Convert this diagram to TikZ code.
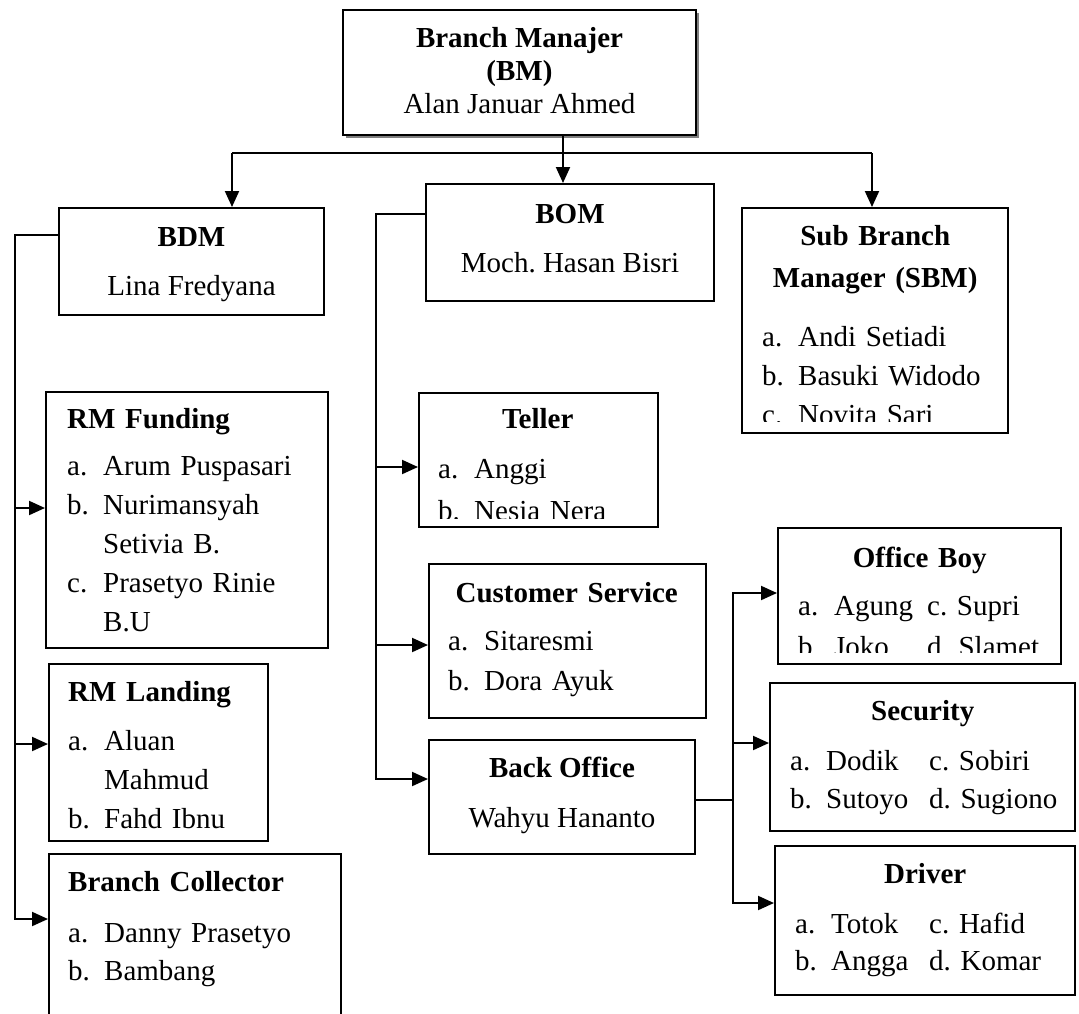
\documentclass[tikz,border=0pt]{standalone}
\usepackage{fontspec}
\setmainfont{Liberation Serif}
\usetikzlibrary{arrows.meta,positioning,shadows}
\frenchspacing

\newcommand{\tp}{\rule{0pt}{20pt}}
\newcommand{\ttl}[1]{\makebox[\linewidth]{\bfseries #1}}
\newcommand{\itm}[2]{\mbox{\makebox[36pt][l]{#1}#2}}
\newcommand{\pcol}[2]{\makebox[#1][l]{#2}}

\tikzset{
  box/.style={draw, line width=2pt, anchor=north west, inner sep=0pt},
  txt/.style={inner sep=0pt, anchor=north west, align=left, font=\fontsize{29}{#1}\selectfont},
  txt/.default=39,
  ctxt/.style={inner sep=0pt, anchor=north, align=center, font=\fontsize{29}{#1}\selectfont},
  ctxt/.default=33,
  link/.style={line width=2pt},
}

\begin{document}
\begin{tikzpicture}[x=1pt, y=-1pt, >={Triangle[length=16pt,width=14pt]}]
  \useasboundingbox (0,0) rectangle (1079,1013);

  % boxes
  \node[box, fill=white, minimum width=353pt, minimum height=125pt,
        drop shadow={shadow xshift=3pt, shadow yshift=-3pt, fill=gray, opacity=1}] (bm) at (342,9) {};
  \node[box, minimum width=265pt, minimum height=107pt] (bdm) at (58,207) {};
  \node[box, minimum width=288pt, minimum height=117pt] (bom) at (425,183) {};
  \node[box, minimum width=266pt, minimum height=225pt] (sbm) at (741,207) {};
  \node[box, minimum width=282pt, minimum height=256pt] (rmf) at (45,391) {};
  \node[box, minimum width=219pt, minimum height=177pt] (rml) at (48,663) {};
  \node[box, minimum width=292pt, minimum height=177pt] (bc)  at (48,853) {};
  \node[box, minimum width=239pt, minimum height=134pt] (tel) at (418,392) {};
  \node[box, minimum width=277pt, minimum height=154pt] (cs)  at (428,563) {};
  \node[box, minimum width=266pt, minimum height=114pt] (bo)  at (428,739) {};
  \node[box, minimum width=283pt, minimum height=136pt] (ob)  at (777,527) {};
  \node[box, minimum width=305pt, minimum height=148pt] (sec) at (769,682) {};
  \node[box, minimum width=300pt, minimum height=149pt] (drv) at (774,845) {};

  % texts
  \node[ctxt] (bmT) at ([shift={(0,18)}]bm.north)
    {\tp\textbf{Branch Manajer}\\ \textbf{(BM)}\\ Alan Januar Ahmed};
  \node[ctxt=49] (bdmT) at ([shift={(0,19)}]bdm.north)
    {\tp\textbf{BDM}\\ Lina Fredyana};
  \node[ctxt=49] (bomT) at ([shift={(0,20)}]bom.north)
    {\tp\textbf{BOM}\\ Moch. Hasan Bisri};
  \begin{scope}
    \clip (sbm.north west) rectangle ([yshift=13pt]sbm.south east);
    \node[txt, text width=226pt] (sbmT) at ([shift={(21,18)}]sbm.north west)
      {\ttl{\tp Sub Branch}\\[3pt] \ttl{Manager (SBM)}\\[20pt]
       \itm{a.}{Andi Setiadi}\\ \itm{b.}{Basuki Widodo}\\ \itm{c.}{Novita Sari}};
  \end{scope}
  \node[txt, text width=242pt] (rmfT) at ([shift={(22,17)}]rmf.north west)
    {\tp\textbf{RM Funding}\\[8pt] \itm{a.}{Arum Puspasari}\\ \itm{b.}{Nurimansyah}\\
     \itm{}{Setivia B.}\\ \itm{c.}{Prasetyo Rinie}\\ \itm{}{B.U}};
  \node[txt, text width=179pt] (rmlT) at ([shift={(20,18)}]rml.north west)
    {\tp\textbf{RM Landing}\\[10pt] \itm{a.}{Aluan}\\ \itm{}{Mahmud}\\ \itm{b.}{Fahd Ibnu}};
  \node[txt=38, text width=252pt] (bcT) at ([shift={(20,18)}]bc.north west)
    {\tp\textbf{Branch Collector}\\[13pt] \itm{a.}{Danny Prasetyo}\\ \itm{b.}{Bambang}};
  \begin{scope}
    \clip (tel.north west) rectangle ([yshift=10pt]tel.south east);
    \node[txt=42, text width=199pt] (telT) at ([shift={(20,16)}]tel.north west)
      {\ttl{\tp Teller}\\[8pt] \itm{a.}{Anggi}\\ \itm{b.}{Nesia Nera}};
  \end{scope}
  \node[txt=40, text width=237pt] (csT) at ([shift={(20,19)}]cs.north west)
    {\ttl{\tp Customer Service}\\[8pt] \itm{a.}{Sitaresmi}\\ \itm{b.}{Dora Ayuk}};
  \node[ctxt=50] (boT) at ([shift={(0,18)}]bo.north)
    {\tp\textbf{Back Office}\\ Wahyu Hananto};
  \begin{scope}
    \clip (ob.north west) rectangle ([yshift=13pt]ob.south east);
    \node[txt=41, text width=243pt] (obT) at ([shift={(21,20)}]ob.north west)
      {\ttl{\tp Office Boy}\\[7pt] \itm{a.}{\pcol{93pt}{Agung}c. Supri}\\
       \itm{b.}{\pcol{93pt}{Joko}d. Slamet}};
  \end{scope}
  \node[txt=38, text width=265pt] (secT) at ([shift={(21,18)}]sec.north west)
    {\ttl{\tp Security}\\[12pt] \itm{a.}{\pcol{103pt}{Dodik}c. Sobiri}\\
     \itm{b.}{\pcol{103pt}{Sutoyo}d. Sugiono}};
  \node[txt=37, text width=260pt] (drvT) at ([shift={(21,18)}]drv.north west)
    {\ttl{\tp Driver}\\[13pt] \itm{a.}{\pcol{98pt}{Totok}c. Hafid}\\
     \itm{b.}{\pcol{98pt}{Angga}d. Komar}};

  % top bus
  \coordinate (busL) at (232,153);
  \coordinate (busM) at (563,153);
  \coordinate (busR) at (872,153);
  \draw[link] (busL) -- (busR);
  \draw[link,->] (bm.south -| busM) -- (bom.north -| busM);
  \draw[link,->] (busL) -- (bdm.north -| busL);
  \draw[link,->] (busR) -- (sbm.north -| busR);

  % BDM branch
  \coordinate (bdmJ) at (15,235);
  \coordinate (bdmE) at (15,919);
  \draw[link,->] (bdm.west |- bdmJ) -| (bdmE) -- (bc.west |- bdmE);
  \foreach \n/\y in {rmf/508, rml/744}
    \draw[link,->] (15,\y) -- (\n.west |- 0,\y);

  % BOM branch
  \coordinate (bomJ) at (376,214);
  \coordinate (bomE) at (376,779);
  \draw[link,->] (bom.west |- bomJ) -| (bomE) -- (bo.west |- bomE);
  \foreach \n/\y in {tel/467, cs/645}
    \draw[link,->] (376,\y) -- (\n.west |- 0,\y);

  % Back Office branch
  \coordinate (boJ) at (733,800);
  \draw[link] (bo.east |- boJ) -- (boJ);
  \draw[link,<->] (ob.west |- 0,593) -| (733,903) -- (drv.west |- 0,903);
  \draw[link,->] (733,743) -- (sec.west |- 0,743);
\end{tikzpicture}
\end{document}
